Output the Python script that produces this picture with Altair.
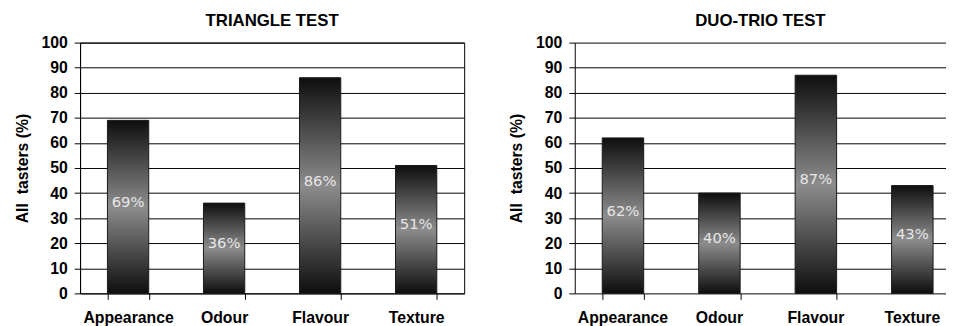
import altair as alt
import pandas as pd

categories = ["Appearance", "Odour", "Flavour", "Texture"]
triangle_values = [69, 36, 86, 51]
duo_trio_values = [62, 40, 87, 43]
panel_titles = ["TRIANGLE TEST", "DUO-TRIO TEST"]
y_ticks = list(range(0, 101, 10))
y_title = "All\u00a0 tasters (%)"

FONT = "Liberation Sans"

gradient = alt.Gradient(
    gradient="linear", x1=0, x2=0, y1=0, y2=1,
    stops=[
        alt.GradientStop(color="#0e0e0e", offset=0),
        alt.GradientStop(color="#8c8c8c", offset=0.5),
        alt.GradientStop(color="#0e0e0e", offset=1),
    ],
)

y_axis = alt.Axis(
    values=y_ticks, title=y_title, grid=True, gridColor="black",
    gridOpacity=1, tickSize=6, labelPadding=7, labelOverlap=False,
    labelFont=FONT, labelFontSize=16, labelFontWeight="bold",
    labelColor="black",
    titleFont=FONT, titleFontSize=16, titleFontWeight="bold",
    titleColor="black", titlePadding=11,
    domainColor="black", tickColor="black",
)

label_style = dict(labelAngle=0, labelPadding=10, labelFont=FONT, labelFontSize=16,
                   labelFontWeight="bold", labelColor="black", orient="bottom",
                   domain=False, tickSize=6)


def panel(values, title, width, cut):
    df = pd.DataFrame({"category": categories, "value": values})
    df["label"] = [f"{v}%" for v in values]
    if cut:
        # plot area cropped on the right like the reference
        scale = alt.Scale(paddingInner=0.57, paddingOuter=0.2095, align=0.68)
        axis_bars = alt.Axis(tickOpacity=0, **label_style)
        axis_text = alt.Axis(labels=False, values=categories[:3], tickBand="extent",
                             tickSize=6, tickColor="black", orient="bottom",
                             domain=False)
    else:
        scale = alt.Scale(paddingInner=0.57, paddingOuter=0.285)
        axis_bars = alt.Axis(tickBand="extent", tickColor="black", **label_style)
        axis_text = axis_bars
    bars = alt.Chart(df).mark_bar(color=gradient, stroke="#1a1a1a", strokeWidth=1).encode(
        x=alt.X("category:N", sort=categories, title=None, scale=scale, axis=axis_bars),
        y=alt.Y("value:Q", scale=alt.Scale(domain=[0, 100]), axis=y_axis),
    )
    text = alt.Chart(df).transform_calculate(mid="datum.value / 2").mark_text(
        font="DejaVu Sans", fontSize=15, color="#e6e6e6", baseline="middle", dy=-5
    ).encode(
        x=alt.X("category:N", sort=categories, title=None, scale=scale, axis=axis_text),
        y=alt.Y("mid:Q", scale=alt.Scale(domain=[0, 100]), axis=y_axis),
        text="label:N",
    )
    view = alt.ViewBackground(strokeWidth=0) if cut else alt.ViewBackground(stroke="black", strokeWidth=1)
    layer = alt.layer(bars, text).properties(
        width=width, height=254, view=view,
        title=alt.TitleParams(title, font=FONT, fontSize=17, fontWeight="bold",
                              color="black", offset=5, frame="group"),
    )
    if cut:
        layer = layer.resolve_axis(x="independent")
    return layer


chart = alt.hconcat(
    panel(triangle_values, panel_titles[0], 389, False),
    panel(duo_trio_values, panel_titles[1], 376, True),
    spacing=44,
).properties(
    padding={"left": 5, "top": 1, "right": 0, "bottom": 0}
).configure_view(strokeWidth=0).configure(background="white")

chart.save("out.html", embed_options={"renderer": "svg", "actions": False})
